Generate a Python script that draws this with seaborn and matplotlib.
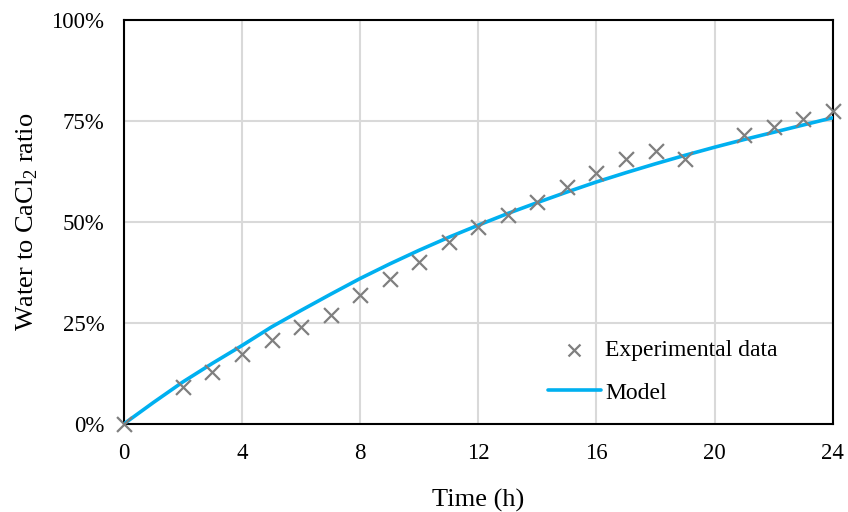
import matplotlib
matplotlib.use("Agg")
import matplotlib.pyplot as plt
import seaborn as sns
import pandas as pd
from matplotlib.ticker import FuncFormatter, MultipleLocator

# Experimental measurements (time in hours, ratio in %)
exp_time = [0, 2, 3, 4, 5, 6, 7, 8, 9, 10, 11, 12, 13, 14, 15, 16, 17, 18, 19, 21, 22, 23, 24]
exp_ratio = [0, 9.2, 12.9, 17.3, 20.8, 24, 27, 32, 36, 40, 45, 48.8, 51.7, 55, 58.7, 62, 65.6, 67.6, 65.6, 71.5, 73.5, 75.5, 77.5]

# Model prediction
model_time = list(range(0, 25))
model_ratio = [0, 5.3, 10.4, 15.0, 19.4, 24.0, 28.1, 32.1, 36.0, 39.6, 43.0, 46.2, 49.2, 52.1, 54.8, 57.4, 59.9, 62.2, 64.4, 66.5, 68.5, 70.4, 72.2, 74.0, 75.8]

exp_df = pd.DataFrame({"time": exp_time, "ratio": exp_ratio})
model_df = pd.DataFrame({"time": model_time, "ratio": model_ratio})

sns.set_theme(style="white", rc={"text.color": "black", "axes.labelcolor": "black",
                                 "xtick.color": "black", "ytick.color": "black"})
plt.rcParams["font.family"] = ["Liberation Serif", "DejaVu Serif"]
plt.rcParams["mathtext.fontset"] = "custom"
plt.rcParams["mathtext.rm"] = "Liberation Serif"

fig = plt.figure(figsize=(8.48, 5.12), dpi=100)
ax = fig.add_axes([0.146, 0.172, 0.836, 0.789])

sns.lineplot(data=model_df, x="time", y="ratio", ax=ax, color="#00B0F0",
             linewidth=2.6, label="Model", zorder=3)
sns.scatterplot(data=exp_df, x="time", y="ratio", ax=ax, marker="x",
                color="#7F7F7F", s=115, linewidth=1.6, label="Experimental data",
                zorder=4, clip_on=False)

ax.set_xlim(0, 24)
ax.set_ylim(0, 100)
ax.xaxis.set_major_locator(MultipleLocator(4))
ax.yaxis.set_major_locator(MultipleLocator(25))
ax.yaxis.set_major_formatter(FuncFormatter(lambda v, _: f"{v:.0f}%"))
ax.grid(True, color="#D9D9D9", linewidth=1.5)
ax.set_axisbelow(True)

for sp in ax.spines.values():
    sp.set_color("black")
    sp.set_linewidth(1.5)
    sp.set_zorder(2.5)

ax.tick_params(axis="x", direction="in", length=6, width=1.5, colors="black",
               labelsize=16.5, pad=14)
ax.tick_params(axis="y", length=0, labelsize=16.5, pad=14, colors="black")

ax.set_xlabel("Time (h)", fontsize=19, labelpad=18)
ax.set_ylabel("Water to CaCl$_2$ ratio", fontsize=19, labelpad=8)

handles, labels = ax.get_legend_handles_labels()
order = [labels.index("Experimental data"), labels.index("Model")]
ax.legend([handles[i] for i in order], [labels[i] for i in order],
          loc="center left", bbox_to_anchor=(0.581, 0.13), frameon=False,
          borderpad=0, fontsize=17, handlelength=2.25, handletextpad=0.2,
          labelspacing=0.9, markerscale=0.8)

fig.savefig("out.png", dpi=100)
